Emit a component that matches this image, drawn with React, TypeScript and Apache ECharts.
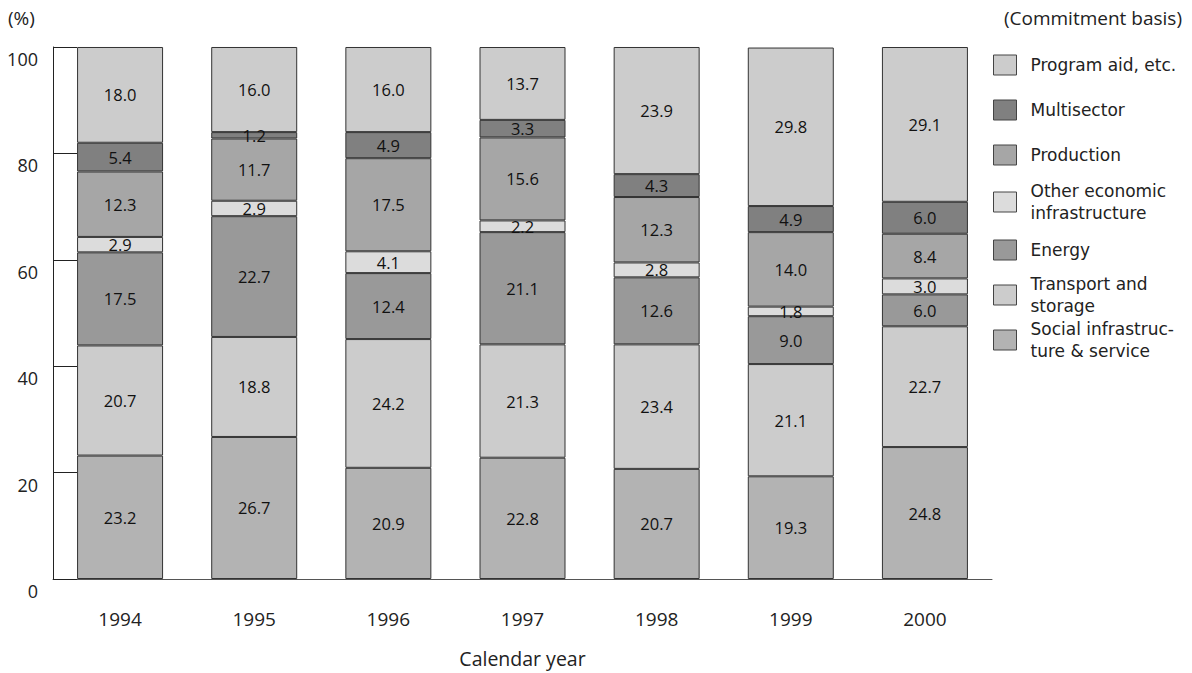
import React, { useEffect, useRef } from "react";
import * as echarts from "echarts";

const years = ["1994", "1995", "1996", "1997", "1998", "1999", "2000"];
const seriesNames = [
  "Social infrastruc-\nture & service",
  "Transport and\nstorage",
  "Energy",
  "Other economic\ninfrastructure",
  "Production",
  "Multisector",
  "Program aid, etc.",
];
const social = [23.2, 26.7, 20.9, 22.8, 20.7, 19.3, 24.8];
const transport = [20.7, 18.8, 24.2, 21.3, 23.4, 21.1, 22.7];
const energy = [17.5, 22.7, 12.4, 21.1, 12.6, 9.0, 6.0];
const otherEcon = [2.9, 2.9, 4.1, 2.2, 2.8, 1.8, 3.0];
const production = [12.3, 11.7, 17.5, 15.6, 12.3, 14.0, 8.4];
const multisector = [5.4, 1.2, 4.9, 3.3, 4.3, 4.9, 6.0];
const programAid = [18.0, 16.0, 16.0, 13.7, 23.9, 29.8, 29.1];
const seriesValues = [social, transport, energy, otherEcon, production, multisector, programAid];
const colors = ["#b3b3b3", "#cccccc", "#999999", "#dcdcdc", "#a6a6a6", "#808080", "#cccccc"];
const legendOrder = [6, 5, 4, 3, 2, 1, 0];
const legendTops = [54, 99, 144, 180, 239, 273, 318];

const FONT = "'Open Sans', Lato, sans-serif";
const LEGEND_FONT = "'DejaVu Sans', 'Open Sans', sans-serif";

export default function App() {
  const ref = useRef<HTMLDivElement>(null);
  useEffect(() => {
    if (!ref.current) return;
    const chart = echarts.init(ref.current, null, { renderer: "svg" });
    const series = seriesNames.map((name, i) => ({
      name,
      type: "bar",
      stack: "total",
      barWidth: 86,
      data: seriesValues[i],
      itemStyle: { color: colors[i], borderColor: "#333", borderWidth: 1 },
      label: {
        show: true,
        position: "inside",
        formatter: (p: any) => Number(p.value).toFixed(1),
        color: "#111",
        fontSize: 16.5,
        fontFamily: FONT,
      },
      emphasis: { disabled: true },
    }));
    const legends = legendOrder.map((idx, k) => ({
      data: [seriesNames[idx]],
      left: 993,
      top: legendTops[k],
      padding: 0,
      orient: "vertical",
      itemWidth: 23,
      itemHeight: 20,
      icon: "rect",
      selectedMode: false,
      itemStyle: { borderColor: "#444", borderWidth: 1 },
      textStyle: {
        fontSize: 17,
        lineHeight: 22,
        color: "#222",
        fontFamily: LEGEND_FONT,
        padding: [0, 0, 0, 9],
      },
    }));
    chart.setOption({
      animation: false,
      backgroundColor: "#fff",
      textStyle: { fontFamily: FONT },
      grid: { left: 53, right: 200, top: 47, bottom: 89 },
      legend: legends,
      graphic: [
        {
          type: "text",
          left: 8,
          top: 8,
          style: { text: "(%)", fontSize: 19, fill: "#222", fontFamily: FONT },
        },
        {
          type: "text",
          right: 10,
          top: 8,
          style: { text: "(Commitment basis)", fontSize: 19, fill: "#222", fontFamily: FONT },
        },
      ],
      xAxis: {
        type: "category",
        data: years,
        name: "Calendar year",
        nameLocation: "middle",
        nameGap: 69,
        nameTextStyle: { fontSize: 19.5, color: "#222", fontFamily: FONT },
        axisLine: { show: true, lineStyle: { color: "#555", width: 1 } },
        axisTick: { show: false },
        axisLabel: { fontSize: 19, color: "#222", margin: 30, fontFamily: FONT },
      },
      yAxis: {
        type: "value",
        min: 0,
        max: 100,
        interval: 20,
        axisLine: { show: true, lineStyle: { color: "#222", width: 1 } },
        axisTick: { show: true, inside: true, length: 24, lineStyle: { color: "#222" } },
        splitLine: { show: false },
        axisLabel: {
          fontSize: 18,
          color: "#222",
          margin: 15,
          verticalAlign: "top",
          padding: [3, 0, 0, 0],
          fontFamily: FONT,
        },
      },
      series,
    });
    return () => chart.dispose();
  }, []);
  return (
    <div
      ref={ref}
      style={{ position: "absolute", left: 0, top: 0, width: 1192, height: 673 }}
    />
  );
}
